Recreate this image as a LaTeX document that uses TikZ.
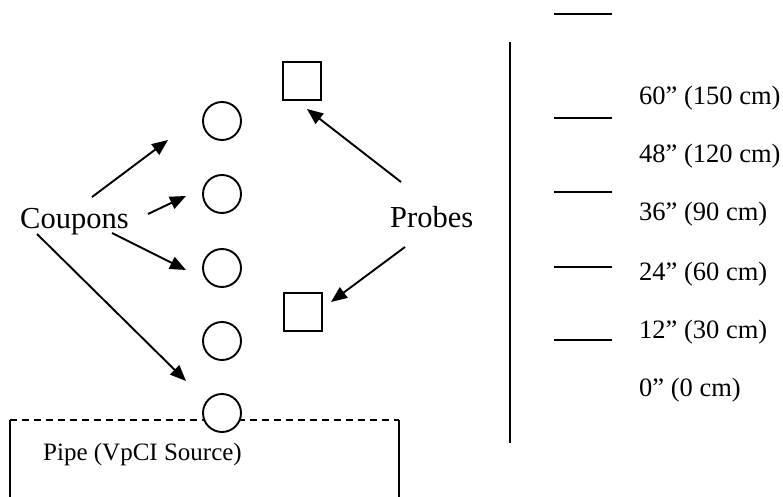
\documentclass[tikz,border=0pt]{standalone}
\usepackage{fontspec}
\setmainfont{Liberation Serif}
\usetikzlibrary{arrows.meta}
\begin{document}
\begin{tikzpicture}[x=1pt,y=-1pt,
  ink/.style={line width=1.9pt, black},
  coupon/.style={ink, circle, draw, fill=white, minimum size=38pt, inner sep=0pt},
  probe/.style={ink, rectangle, draw, minimum size=38pt, inner sep=0pt},
  pointer/.style={ink, -{Triangle[length=16pt,width=13pt]}},
  tick/.style={ink},
  bigtext/.style={font=\fontsize{30.5}{35}\selectfont, inner sep=0pt, anchor=base west},
  scaletext/.style={font=\fontsize{26.5}{30}\selectfont, inner sep=0pt, anchor=base west}
]
\useasboundingbox (0,0) rectangle (783,497);

% pipe outline (dashed top, solid sides)
\coordinate (pl) at (10,420);
\coordinate (pr) at (399,420);
\coordinate (plb) at (10,497);
\coordinate (prb) at (399,497);
\draw[ink, dash pattern=on 7pt off 5pt] (pl) -- (pr);
\draw[ink] (pl) -- (plb);
\draw[ink] (pr) -- (prb);
\node[font=\fontsize{25}{30}\selectfont, inner sep=0pt, anchor=base west] (pipe) at (43,460) {Pipe (VpCI Source)};

% coupons
\node[coupon] (c1) at (222,121) {};
\node[coupon] (c2) at (222,194) {};
\node[coupon] (c3) at (222,268) {};
\node[coupon] (c4) at (222,341) {};
\node[coupon] (c5) at (222,413) {};

% probes
\node[probe] (p1) at (302,81) {};
\node[probe] (p2) at (303,312) {};

% labels
\node[bigtext] (coupons) at (20,228) {Coupons};
\node[bigtext] (probes) at (390,227) {Probes};

% coupon pointers
\coordinate (ca1) at (92,197);
\coordinate (cb1) at (168,140);
\coordinate (ca2) at (148,214);
\coordinate (cb2) at (186,196);
\coordinate (ca3) at (112,233);
\coordinate (cb3) at (186,270);
\coordinate (ca4) at (37,234);
\coordinate (cb4) at (186,381);
\draw[pointer] (ca1) -- (cb1);
\draw[pointer] (ca2) -- (cb2);
\draw[pointer] (ca3) -- (cb3);
\draw[pointer] (ca4) -- (cb4);

% probe pointers
\coordinate (pa1) at (401,182);
\coordinate (pb1) at (307,109);
\coordinate (pa2) at (405,247);
\coordinate (pb2) at (331,302);
\draw[pointer] (pa1) -- (pb1);
\draw[pointer] (pa2) -- (pb2);

% height scale
\coordinate (st) at (510,42);
\coordinate (sb) at (510,443);
\draw[ink] (st) -- (sb);
\foreach \y/\n in {14/t0,118/t1,192/t2,267/t3,340/t4}{
  \coordinate (\n a) at (554,\y);
  \coordinate (\n b) at (612,\y);
  \draw[tick] (\n a) -- (\n b);
}
\node[scaletext] (h60) at (639,105) {60” (150 cm)};
\node[scaletext] (h48) at (639,163) {48” (120 cm)};
\node[scaletext] (h36) at (639,220) {36” (90 cm)};
\node[scaletext] (h24) at (639,280) {24” (60 cm)};
\node[scaletext] (h12) at (639,338) {12” (30 cm)};
\node[scaletext] (h0) at (639,396) {0” (0 cm)};
\end{tikzpicture}
\end{document}
